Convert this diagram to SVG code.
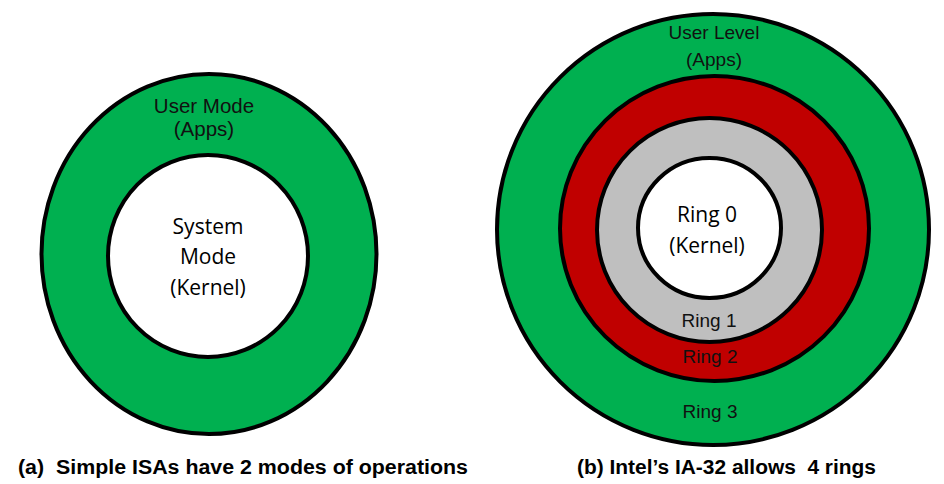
<svg xmlns="http://www.w3.org/2000/svg" width="944" height="484" viewBox="0 0 944 484">
<style>
.ring{stroke:#000;stroke-width:4}
.g{fill:#00B050}.r{fill:#C00000}.s{fill:#BFBFBF}.w{fill:#fff}
.t{text-anchor:middle;fill:#111}
.a{font-family:"Liberation Sans",Arial,sans-serif}
.c{font-family:"Open Sans","Liberation Sans",sans-serif;font-size:21px;fill:#000}
.sm{font-size:19px}.md{font-size:20.5px}
.cap{font-family:"Liberation Sans",Arial,sans-serif;font-weight:bold;font-size:19.5px;fill:#000;white-space:pre}
</style>
<rect width="944" height="484" fill="#fff"/>
<g id="user-mode">
<ellipse class="ring g" cx="209" cy="254" rx="167.5" ry="180"/>
<text class="t a md" x="204" y="113">User Mode</text>
<text class="t a md" x="204" y="136">(Apps)</text>
</g>
<g id="system-mode">
<ellipse class="ring w" cx="208" cy="256" rx="100" ry="101"/>
<text class="t c" x="208" y="234">System</text>
<text class="t c" x="208" y="264">Mode</text>
<text class="t c" x="208" y="295">(Kernel)</text>
</g>
<g id="ring3">
<ellipse class="ring g" cx="713" cy="229.5" rx="216" ry="215.5"/>
<text class="t a sm" x="714" y="39">User Level</text>
<text class="t a sm" x="714" y="66">(Apps)</text>
<text class="t a sm" x="710" y="418">Ring 3</text>
</g>
<g id="ring2">
<ellipse class="ring r" cx="714.5" cy="228.5" rx="154.5" ry="152.5"/>
<text class="t a sm" x="710" y="363">Ring 2</text>
</g>
<g id="ring1">
<ellipse class="ring s" cx="709.5" cy="230" rx="112.5" ry="112"/>
<text class="t a sm" x="709" y="327">Ring 1</text>
</g>
<g id="ring0">
<ellipse class="ring w" cx="709.5" cy="228" rx="71.5" ry="70"/>
<text class="t c" x="707" y="222">Ring 0</text>
<text class="t c" x="707" y="253">(Kernel)</text>
</g>
<g id="connectors"/>
<g id="captions">
<text class="cap" x="18" y="474" textLength="450" lengthAdjust="spacingAndGlyphs" xml:space="preserve">(a)  Simple ISAs have 2 modes of operations</text>
<text class="cap" x="577" y="474" textLength="299" lengthAdjust="spacingAndGlyphs" xml:space="preserve">(b) Intel’s IA-32 allows  4 rings</text>
</g>
</svg>
